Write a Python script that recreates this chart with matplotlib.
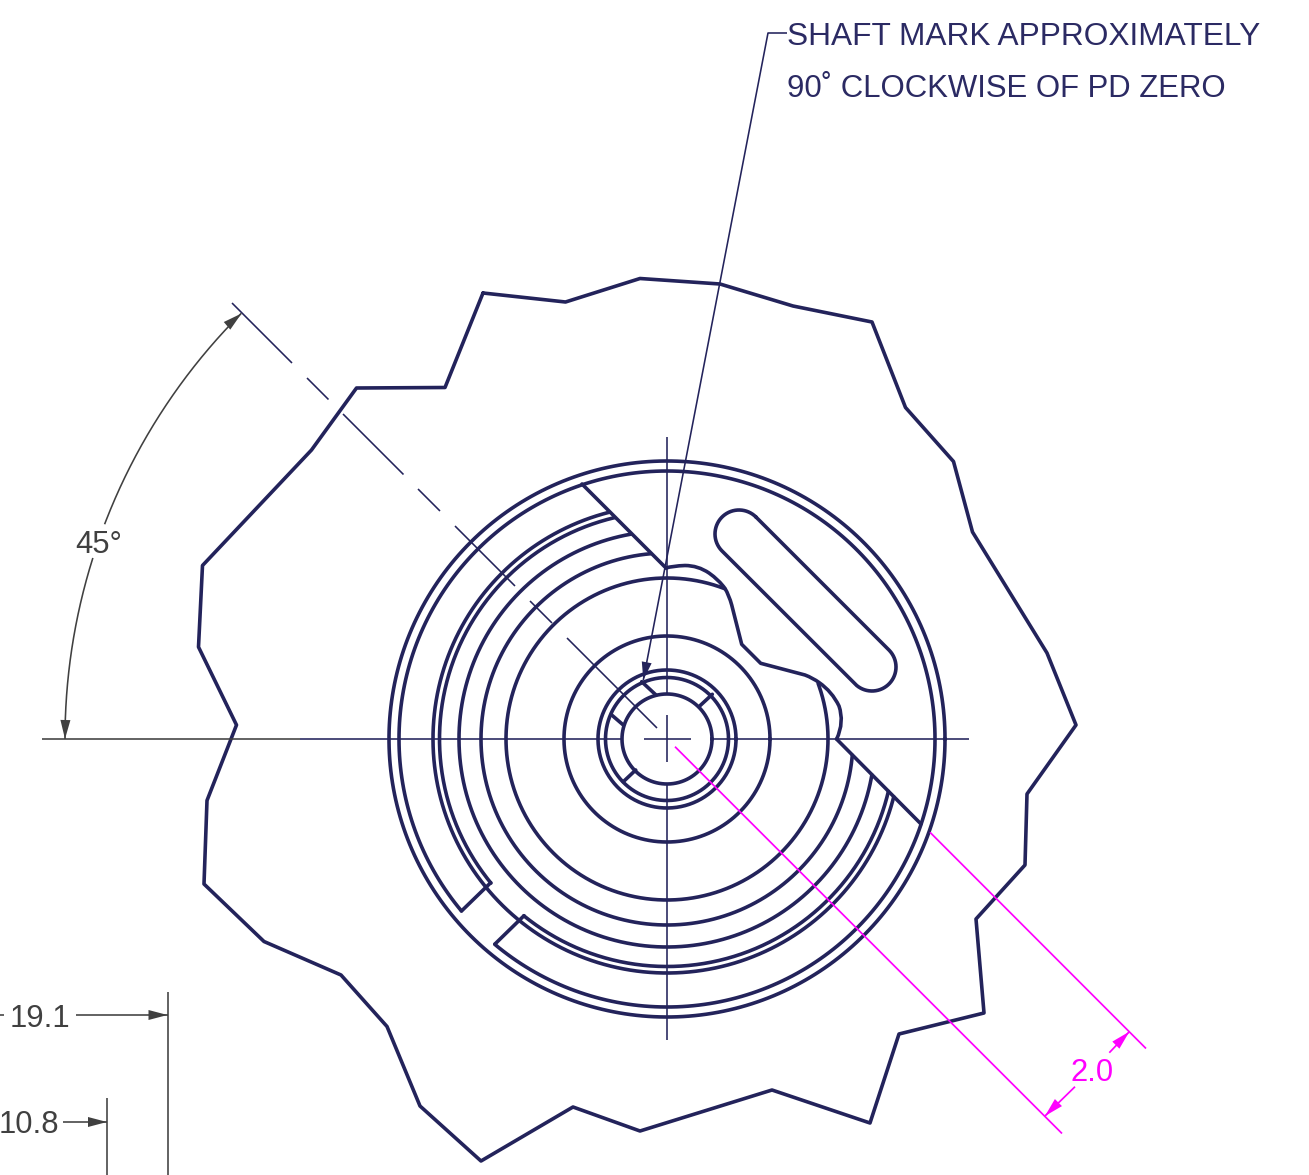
import numpy as np
import matplotlib
matplotlib.use("Agg")
import matplotlib.pyplot as plt
from matplotlib.path import Path
from matplotlib.patches import PathPatch

plt.rcParams['font.family'] = ['Liberation Sans', 'DejaVu Sans']

NAVY = '#23235b'
TEXTNAVY = '#2b2a63'
GREY = '#404040'
PINK = '#ff00ff'

# Середина деталі у пікселях
cx, cy = 667, 739

# Зовнішній контур
outlineX = [483, 565.5, 640, 720, 793, 872, 905.5, 953.5, 972.5, 1047, 1076, 1027, 1025, 976, 984, 899, 870, 772, 640, 573, 481, 420, 387, 341, 264, 204, 207, 236.5, 198.5, 202.5, 311.5, 356.5, 445]
outlineY = [293, 302, 278.5, 284, 306, 322, 407.5, 461.5, 532, 653, 725, 794, 865, 919, 1013, 1034, 1123, 1090, 1131, 1107, 1161, 1106, 1026.5, 975, 941.5, 884, 800.5, 725, 647, 565.5, 450, 388, 387.5]

# Радіуси кіл
fullRadii = [278, 45, 61.5, 69, 103]
rimInner = 268
grooveRadii = [208, 186]
grooveInner, grooveOuter = 227.5, 234
boreRadius = 161

# Хорда зрізу: dx + dy = chord
chord = 169
notchStart, notchEnd = 219.3, 231.0
gapStart, gapEnd = 219.9, 230.0
boreStart, boreEnd = 69.0, 380.2

# Спиці маточини
spokesX1 = [656, 700, 623.3, 635.7]
spokesY1 = [695, 705.7, 725, 770]
spokesX2 = [641.7, 712.3, 611.7, 623.3]
spokesY2 = [681.7, 694.3, 715, 781.7]

# Риски штрихової лінії під 45 градусів
dashStart = [232, 307, 343, 418, 455, 530, 567]
dashEnd = [292, 328.5, 403.5, 440, 515, 552, 657]

slotA = (739, 534)
slotB = (872, 667)
slotR = 24

dimRadius = 602
dimLabels = ["45°", "19.1", "10.8", "2.0"]
noteLines = ["SHAFT MARK APPROXIMATELY", "90˚ CLOCKWISE OF PD ZERO"]


# Точки дуги, кут у градусах проти годинникової стрілки
def arc(r, t1, t2, x0=cx, y0=cy):
    t = np.radians(np.linspace(t1, t2, 300))
    return x0 + r * np.cos(t), y0 - r * np.sin(t)


# Кут перетину кола з хордою
def cutAngle(r):
    return np.degrees(np.arcsin(chord / (r * np.sqrt(2))))


# Заповнена стрілка за вістрям і напрямком
def arrow(ax, tipX, tipY, dirX, dirY, color, length=19, width=10):
    n = np.hypot(dirX, dirY)
    ux, uy = dirX / n, dirY / n
    baseX, baseY = tipX - ux * length, tipY - uy * length
    ax.fill([tipX, baseX - uy * width / 2, baseX + uy * width / 2],
            [tipY, baseY + ux * width / 2, baseY - ux * width / 2],
            color=color, lw=0, zorder=4)


fig = plt.figure(figsize=(13.09, 11.75), dpi=100)
ax = fig.add_axes([0, 0, 1, 1])
ax.set_xlim(0, 1309)
ax.set_ylim(1175, 0)
ax.axis('off')

main = dict(color=NAVY, lw=2.6, solid_capstyle='round', solid_joinstyle='round')
thin = dict(color=NAVY, lw=1.15, solid_capstyle='butt')
dim = dict(color=GREY, lw=1.15, solid_capstyle='butt')
pink = dict(color=PINK, lw=1.25, solid_capstyle='butt')

# Контур
ax.plot(outlineX + outlineX[:1], outlineY + outlineY[:1], **main)

# Повні кола
for r in fullRadii:
    ax.plot(*arc(r, 0, 360), **main)

# Кільце з вирізом
ax.plot(*arc(rimInner, gapEnd, 360 + gapStart), **main)

# Канавки між двома кінцями зрізу
for r in grooveRadii + [grooveOuter]:
    a = cutAngle(r)
    ax.plot(*arc(r, 135 - a, 360 + a - 45), **main)

a = cutAngle(grooveInner)
ax.plot(*arc(grooveInner, 135 - a, notchStart), **main)
ax.plot(*arc(grooveInner, notchEnd, 360 + a - 45), **main)

# Перемички вирізу
ax.plot([490.7, 461.5], [882.7, 911], **main)
ax.plot([524, 495], [915.7, 944], **main)

# Лінія зрізу
ax.plot([582, 666], [484, 568], **main)
ax.plot([836.5, 921], [739, 824], **main)

# Центральний отвір
ax.plot(*arc(boreRadius, boreStart, boreEnd), **main)

# Виступ отвору
verts = [(666, 568), (672, 566), (685, 565.5), (698, 565.5), (709, 573), (719, 580), (725, 588.5), (729, 595), (731.7, 605),
         (741.7, 644.3), (760.7, 663.3), (805, 675), (813, 678), (819.3, 682.7), (832, 691.5), (839, 706),
         (844.5, 722), (836.7, 739)]
codes = [Path.MOVETO, Path.CURVE3, Path.CURVE3, Path.CURVE3, Path.CURVE3, Path.CURVE3, Path.CURVE3, Path.CURVE3, Path.CURVE3,
         Path.LINETO, Path.LINETO, Path.LINETO, Path.CURVE3, Path.CURVE3, Path.CURVE3, Path.CURVE3,
         Path.CURVE3, Path.CURVE3]
ax.add_patch(PathPatch(Path(verts, codes), fill=False, edgecolor=NAVY, lw=2.6, capstyle='round', joinstyle='round'))

# Паз
x1, y1 = arc(slotR, 45, 225, slotA[0], slotA[1])
x2, y2 = arc(slotR, 225, 405, slotB[0], slotB[1])
ax.plot(np.r_[x1, x2, x1[0]], np.r_[y1, y2, y1[0]], **main)

# Спиці
for i in range(len(spokesX1)):
    ax.plot([spokesX1[i], spokesX2[i]], [spokesY1[i], spokesY2[i]], **main)

# Осьові лінії
ax.plot([42, 300], [739, 739], **dim)
ax.plot([300, 622], [739, 739], **thin)
ax.plot([644, 691], [739, 739], **thin)
ax.plot([712, 969], [739, 739], **thin)
ax.plot([667, 667], [437, 695], **thin)
ax.plot([667, 667], [715, 762], **thin)
ax.plot([667, 667], [785, 1040], **thin)

# Штрихова лінія
for i in range(len(dashStart)):
    ax.plot([dashStart[i], dashEnd[i]], [dashStart[i] + 71, dashEnd[i] + 71], **thin)

# Виноска
ax.plot([643.3, 768, 787], [680, 33, 33], **thin)
arrow(ax, 643.3, 680, 643.3 - 768, 680 - 33, NAVY, length=18)
ax.text(787, 45, noteLines[0], fontsize=22.8, color=TEXTNAVY, ha='left', va='baseline')
ax.text(787, 97, noteLines[1], fontsize=22.45, color=TEXTNAVY, ha='left', va='baseline')

# Кутовий розмір
ax.plot(*arc(dimRadius, 135, 159.1), **dim)
ax.plot(*arc(dimRadius, 162.5, 180), **dim)
arrow(ax, 241.5, 313.5, 47, -40, GREY)
arrow(ax, 65, 739, -0.4, 18, GREY)
ax.text(75, 553, dimLabels[0], fontsize=22.3, color=GREY, ha='left', va='baseline')

# Лінійні розміри
ax.plot([0, 4], [1015, 1015], **dim)
ax.plot([76, 168], [1015, 1015], **dim)
ax.plot([167.5, 167.5], [992, 1175], **dim)
arrow(ax, 167.5, 1015, 1, 0, GREY)
ax.text(10, 1027, dimLabels[1], fontsize=22.3, color=GREY, ha='left', va='baseline')
ax.plot([63, 107], [1122, 1122], **dim)
ax.plot([107, 107], [1098, 1175], **dim)
arrow(ax, 107, 1122, 1, 0, GREY)
ax.text(-1, 1133, dimLabels[2], fontsize=22.3, color=GREY, ha='left', va='baseline')

# Рожевий розмір
ax.plot([675, 1062], [746.7, 1133.5], **pink)
ax.plot([930, 1146], [832.3, 1048.5], **pink)
ax.plot([1045, 1075], [1116, 1086.7], **pink)
ax.plot([1109.3, 1129.3], [1052.7, 1031.7], **pink)
arrow(ax, 1045, 1116, -1, 1, PINK)
arrow(ax, 1129.3, 1031.7, 1, -1, PINK)
ax.text(1070, 1080.7, dimLabels[3], fontsize=22.3, color=PINK, ha='left', va='baseline')

fig.savefig('out.png', dpi=100)
